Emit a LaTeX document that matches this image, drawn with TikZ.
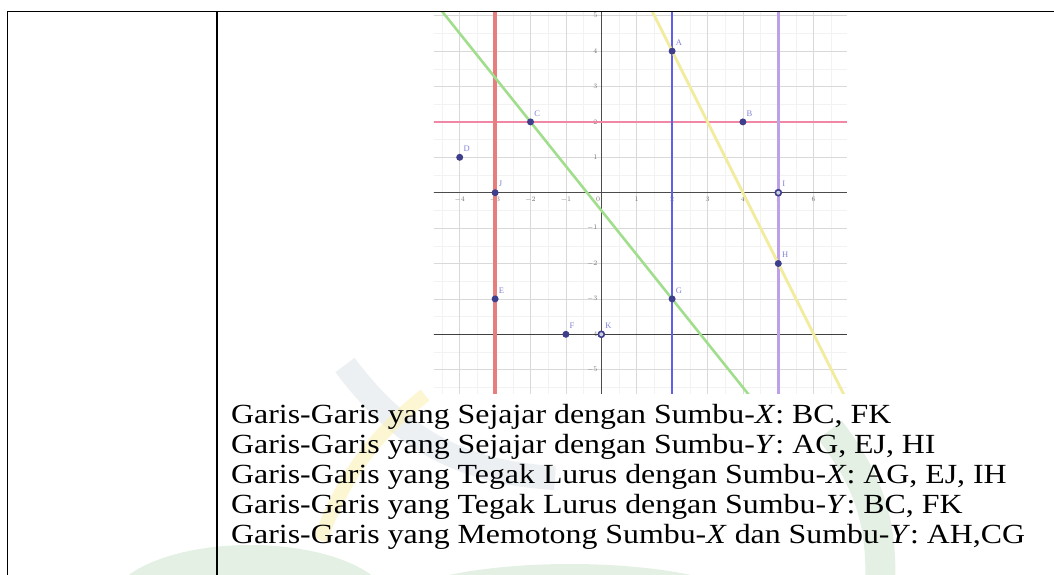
\documentclass[tikz,border=0pt]{standalone}
\usepackage{fontspec}
\setmainfont{Liberation Serif}
\usetikzlibrary{calc,positioning}
\definecolor{ptc}{RGB}{62,62,140}
\definecolor{lblc}{RGB}{130,130,215}
\definecolor{redl}{RGB}{232,125,125}
\definecolor{pinkl}{RGB}{240,135,165}
\definecolor{bluel}{RGB}{95,95,235}
\definecolor{purl}{RGB}{190,160,232}
\definecolor{grnl}{RGB}{160,222,140}
\definecolor{ylwl}{RGB}{242,236,160}
\definecolor{wmg}{RGB}{208,230,208}
\definecolor{wmy}{RGB}{250,240,180}
\definecolor{wmb}{RGB}{222,228,234}
\newcommand{\wide}[1]{\scalebox{1.15}[1]{#1}}
\tikzset{
  tbl/.style={line width=1.5pt,line cap=rect},
  grdmin/.style={black!5,line width=.5pt},
  grdmaj/.style={black!15,line width=.7pt},
  ax/.style={black!70,line width=1pt},
  tck/.style={font=\fontsize{7.5}{7.5}\selectfont,text=black!55,inner sep=1pt},
  pt/.style={circle,fill=ptc,inner sep=0pt,minimum size=7pt},
  opt/.style={circle,draw=ptc,fill=ptc!25,line width=1.6pt,inner sep=0pt,minimum size=6pt},
  lbl/.style={font=\fontsize{8.5}{8.5}\selectfont,text=lblc,inner sep=1pt},
  txt/.style={font=\fontsize{27.7}{30}\selectfont,anchor=base west,inner sep=0pt},
}

\begin{document}
\begin{tikzpicture}[x=1pt,y=-1pt]
  \useasboundingbox (0,0) rectangle (1054,574);
  % faint watermark behind the text
  \fill[wmg,opacity=.6] (250,605) ellipse (140 and 60);
  \fill[wmg,opacity=.6] (570,612) ellipse (190 and 48);
  \draw[wmg,line width=30pt,opacity=.6] (830,430) to[bend left=20] (880,590);
  \draw[wmb,line width=24pt,opacity=.55] (345,365) to[bend right=25] (555,478);
  \draw[wmy,line width=14pt,opacity=.6] (320,540) to[bend left=15] (425,395);
  % table lines
  \draw[tbl] (7.5,574) -- (7.5,11.5) -- (1054,11.5);
  \draw[tbl] (217,11.5) -- (217,574);
  % graph
  \begin{scope}[shift={(601.3,192.7)},x=35.4pt,y=35.4pt]
    \fill[white] (-4.73,-5.66) rectangle (6.94,5.09);
    \clip (-4.73,-5.66) rectangle (6.94,5.09);
    \draw[grdmin,step=.5] (-5,-6) grid (7,6);
    \draw[grdmaj,step=1] (-5,-6) grid (7,6);
    \draw[ax] (-5,0) -- (7,0);
    \draw[ax] (0,-6) -- (0,6);
    \foreach \x in {-4,-3,-2,-1,1,2,3,4,5,6}
      \node[tck,anchor=north] (tx\x) at (\x,-.08) {$\x$};
    \node[tck,anchor=north east] (t0) at (0,-.08) {$0$};
    \foreach \y in {-5,-4,-3,-2,-1,1,2,3,4,5}
      \node[tck,anchor=east] (ty\y) at (-.08,\y) {$\y$};
    % the points
    \coordinate (A) at (2,4);   \coordinate (B) at (4,2);
    \coordinate (C) at (-2,2);  \coordinate (D) at (-4,1);
    \coordinate (E) at (-3,-3); \coordinate (F) at (-1,-4);
    \coordinate (G) at (2,-3);  \coordinate (H) at (5,-2);
    \coordinate (I) at (5,0);   \coordinate (J) at (-3,0);
    \coordinate (K) at (0,-4);
    % lines through them
    \draw[black!75,line width=1.3pt] ($(F)!-8!(K)$) -- ($(K)!-8!(F)$);
    \draw[pinkl,line width=2pt] ($(C)!-8!(B)$) -- ($(B)!-8!(C)$);
    \draw[redl,line width=3.5pt] ($(E)!-8!(J)$) -- ($(J)!-8!(E)$);
    \draw[bluel,line width=2.4pt] ($(A)!-8!(G)$) -- ($(G)!-8!(A)$);
    \draw[purl,line width=3pt] ($(I)!-8!(H)$) -- ($(H)!-8!(I)$);
    \draw[grnl,line width=2.6pt] ($(C)!-8!(G)$) -- ($(G)!-8!(C)$);
    \draw[ylwl,line width=3pt] ($(A)!-8!(H)$) -- ($(H)!-8!(A)$);
    \foreach \p in {A,B,C,D,E,F,G,H,J}
      \node[pt,label={[lbl,label distance=1.5pt]60:\p}] (d\p) at (\p) {};
    \foreach \p in {I,K}
      \node[opt,label={[lbl,label distance=2pt]60:\p}] (d\p) at (\p) {};
  \end{scope}
  % the five statements
  \node[txt] (l1) at (231,423.3) {\wide{Garis-Garis yang Sejajar dengan Sumbu-\textit{X}: BC, FK}};
  \node[txt] (l2) at (231,453.3) {\wide{Garis-Garis yang Sejajar dengan Sumbu-\textit{Y}: AG, EJ, HI}};
  \node[txt] (l3) at (231,483.5) {\wide{Garis-Garis yang Tegak Lurus dengan Sumbu-\textit{X}: AG, EJ, IH}};
  \node[txt] (l4) at (231,513.5) {\wide{Garis-Garis yang Tegak Lurus dengan Sumbu-\textit{Y}: BC, FK}};
  \node[txt] (l5) at (231,543.3) {\wide{Garis-Garis yang Memotong Sumbu-\textit{X} dan Sumbu-\textit{Y}: AH,CG}};
\end{tikzpicture}
\end{document}
